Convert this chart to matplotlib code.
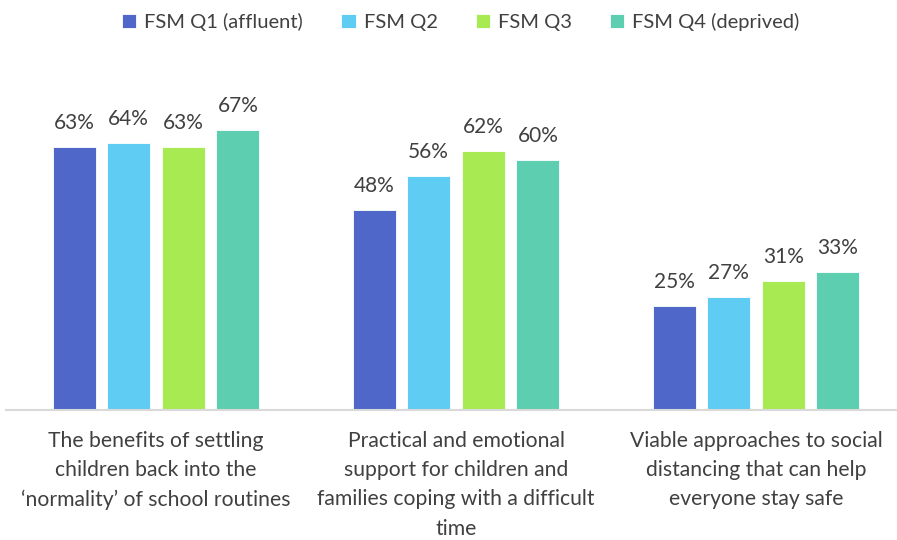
import matplotlib
matplotlib.use("Agg")
import matplotlib.pyplot as plt
import numpy as np

categories = [
    "The benefits of settling\nchildren back into the\n\u2018normality\u2019 of school routines",
    "Practical and emotional\nsupport for children and\nfamilies coping with a difficult\ntime",
    "Viable approaches to social\ndistancing that can help\neveryone stay safe",
]
series_names = ["FSM Q1 (affluent)", "FSM Q2", "FSM Q3", "FSM Q4 (deprived)"]
q1 = [0.63, 0.48, 0.25]
q2 = [0.64, 0.56, 0.27]
q3 = [0.63, 0.62, 0.31]
q4 = [0.67, 0.60, 0.33]
series = [q1, q2, q3, q4]
colors = ["#4E67C8", "#5ECCF3", "#A7EA52", "#5DCEAF"]

plt.rcParams['font.family'] = ['Lato', 'DejaVu Sans']
W, H = 897, 540
fig = plt.figure(figsize=(W/100, H/100), dpi=100)
left_px, right_px = 6, 897
base_px = 410
ax = fig.add_axes([left_px/W, (H-base_px)/H, (right_px-left_px)/W, (base_px-76)/H])
ax.set_xlim(-0.5, -0.5 + (right_px-left_px)/300)
ax.set_ylim(0, 0.80)

x = np.arange(len(categories))
bw = 0.143
step = 0.182
for i, (vals, c, name) in enumerate(zip(series, colors, series_names)):
    xs = x + (i - 1.5) * step
    ax.bar(xs, vals, width=bw, color=c, label=name, edgecolor='white', linewidth=0.6)
    for xi, v in zip(xs, vals):
        ax.text(xi, v + 0.033, f"{round(v*100)}%", ha='center', va='bottom',
                fontsize=15, color='#404040')

for s in ['top', 'right', 'left']:
    ax.spines[s].set_visible(False)
ax.spines['bottom'].set_color('#D9D9D9')
ax.spines['bottom'].set_linewidth(1.5)
ax.set_yticks([])
ax.set_xticks(x)
ax.set_xticklabels(categories, fontsize=15.2, color='#404040', linespacing=1.58, va='top')
ax.tick_params(axis='x', length=0, pad=15)

leg = fig.legend(loc='center', bbox_to_anchor=(461/W, 1 - 22/H), ncol=4, frameon=False,
                 fontsize=14.5, handlelength=0.7, handleheight=0.7, handletextpad=0.4,
                 columnspacing=1.9)
for t in leg.get_texts():
    t.set_color('#404040')

fig.savefig("out.png", dpi=100)
